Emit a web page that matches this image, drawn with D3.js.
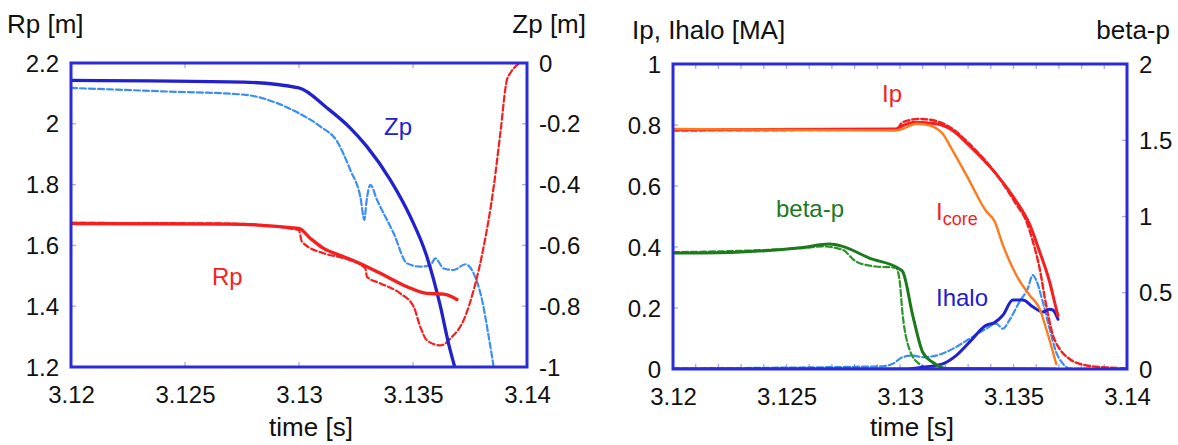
<!DOCTYPE html>
<html><head><meta charset="utf-8">
<script src="https://cdn.jsdelivr.net/npm/d3@7"></script>
<style>
html,body{margin:0;padding:0;background:#fff;}
svg text{font-family:"Liberation Sans",Arial,Helvetica,sans-serif;}
</style></head>
<body><svg id="chart" width="1178" height="445"></svg>
<script>
// ---------- Tick labels ----------
const timeTicks = [3.12, 3.125, 3.13, 3.135, 3.14];
const rpTicks = [1.2, 1.4, 1.6, 1.8, 2.0, 2.2];
const zpTicks = [-1, -0.8, -0.6, -0.4, -0.2, 0];
const ipTicks = [0, 0.2, 0.4, 0.6, 0.8, 1];
const betaTicks = [0, 0.5, 1, 1.5, 2];

// ---------- Left panel data ----------
const zpSolidT = [3.12, 3.12757, 3.12999, 3.13123, 3.13225, 3.13298, 3.13401, 3.13488, 3.13561, 3.13620, 3.13656, 3.13683];
const zpSolidV = [-0.057, -0.063, -0.082, -0.148, -0.214, -0.275, -0.385, -0.505, -0.637, -0.80, -0.923, -1.0];

const zpDashT = [3.12, 3.12392, 3.12757, 3.12904, 3.12999, 3.13094, 3.13167, 3.13225, 3.13269, 3.13287, 3.13295, 3.13313, 3.13342, 3.13415, 3.13474, 3.13532, 3.13576, 3.13598, 3.13635, 3.13678, 3.13730, 3.13766, 3.13803, 3.13832, 3.13854];
const zpDashV = [-0.082, -0.093, -0.104, -0.132, -0.165, -0.209, -0.258, -0.352, -0.44, -0.516, -0.462, -0.401, -0.45, -0.56, -0.659, -0.67, -0.665, -0.643, -0.676, -0.681, -0.662, -0.692, -0.78, -0.90, -1.0];

const rpSolidT = [3.12, 3.12684, 3.12999, 3.13050, 3.13108, 3.13196, 3.13298, 3.13386, 3.13474, 3.13561, 3.13635, 3.13693];
const rpSolidV = [1.672, 1.670, 1.656, 1.623, 1.590, 1.563, 1.530, 1.497, 1.464, 1.442, 1.440, 1.422];

const rpDashT = [3.12, 3.12684, 3.12999, 3.13013, 3.13108, 3.13196, 3.13291, 3.13298, 3.13357, 3.13444, 3.13503, 3.13532, 3.13561, 3.13620, 3.13671, 3.13722, 3.13766, 3.13810, 3.13854, 3.13883, 3.13912, 3.13927, 3.13963];
const rpDashV = [1.674, 1.672, 1.651, 1.612, 1.574, 1.558, 1.524, 1.497, 1.475, 1.442, 1.398, 1.332, 1.288, 1.271, 1.299, 1.354, 1.453, 1.596, 1.793, 1.969, 2.145, 2.167, 2.198];

// ---------- Right panel data ----------
const ipDashT = [3.12, 3.12982, 3.13012, 3.13085, 3.13159, 3.13232, 3.13306, 3.13424, 3.13512, 3.13556, 3.13585, 3.13615, 3.13644, 3.13674, 3.13703, 3.13747, 3.13820, 3.13894, 3.14];
const ipDashV = [0.782, 0.785, 0.809, 0.820, 0.813, 0.787, 0.738, 0.639, 0.540, 0.485, 0.419, 0.330, 0.209, 0.110, 0.066, 0.033, 0.012, 0.006, 0.002];

const ipSolidT = [3.12, 3.12982, 3.13012, 3.13071, 3.13159, 3.13232, 3.13306, 3.13424, 3.13512, 3.13571, 3.13615, 3.13659, 3.13688, 3.13696];
const ipSolidV = [0.785, 0.787, 0.798, 0.809, 0.804, 0.782, 0.732, 0.639, 0.550, 0.474, 0.385, 0.286, 0.198, 0.175];

const icoreT = [3.12, 3.12982, 3.13012, 3.13071, 3.13129, 3.13188, 3.13232, 3.13306, 3.13379, 3.13416, 3.13453, 3.13512, 3.13571, 3.13615, 3.13644, 3.13688];
const icoreV = [0.787, 0.782, 0.787, 0.804, 0.799, 0.771, 0.716, 0.617, 0.518, 0.485, 0.407, 0.308, 0.242, 0.198, 0.132, 0.017];

const betaSolidT = [3.12, 3.12276, 3.12571, 3.12688, 3.12747, 3.12865, 3.12997, 3.13012, 3.13056, 3.13100, 3.13144, 3.13203, 3.13688];
const betaSolidV = [0.76, 0.766, 0.797, 0.819, 0.804, 0.727, 0.656, 0.639, 0.352, 0.110, 0.044, 0.004, 0.0];

const betaDashT = [3.12, 3.12571, 3.12659, 3.12747, 3.12806, 3.12894, 3.12982, 3.12997, 3.13012, 3.13041, 3.13085, 3.13129, 3.13688];
const betaDashV = [0.766, 0.793, 0.804, 0.782, 0.705, 0.672, 0.665, 0.595, 0.352, 0.132, 0.033, 0.004, 0.0];

const ihaloSolidT = [3.12, 3.13012, 3.13100, 3.13188, 3.13247, 3.13306, 3.13379, 3.13416, 3.13453, 3.13497, 3.13541, 3.13585, 3.13629, 3.13659, 3.13674, 3.13696];
const ihaloSolidV = [0.0, 0.0, 0.006, 0.017, 0.044, 0.088, 0.143, 0.152, 0.176, 0.226, 0.226, 0.204, 0.187, 0.196, 0.193, 0.163];

const ihaloDashT = [3.12, 3.12924, 3.12968, 3.13012, 3.13056, 3.13100, 3.13159, 3.13232, 3.13306, 3.13379, 3.13424, 3.13453, 3.13482, 3.13526, 3.13563, 3.13585, 3.13600, 3.13629, 3.13659, 3.13688, 3.13718, 3.13747, 3.14];
const ihaloDashV = [0.002, 0.009, 0.017, 0.039, 0.044, 0.039, 0.044, 0.066, 0.099, 0.132, 0.149, 0.132, 0.160, 0.220, 0.264, 0.308, 0.291, 0.220, 0.132, 0.055, 0.017, 0.002, 0.0];

// ---------- Drawing ----------
const svg = d3.select("#chart");
const FRAME = "#2b2bdc", TICKC = "#a8a8ee";
const FS = 24, FT = 26;
const zip = (t, v) => t.map((d, i) => [d, v[i]]);
const fmt = d => String(+d.toFixed(3));

function panel(opt) {
  const {x0, x1, y0, y1, id} = opt;
  const x = d3.scaleLinear().domain([3.12, 3.14]).range([x0, x1]);
  const yL = d3.scaleLinear().domain(opt.lDom).range([y1, y0]);
  const yR = d3.scaleLinear().domain(opt.rDom).range([y1, y0]);
  const g = svg.append("g");
  g.append("clipPath").attr("id", id).append("rect")
    .attr("x", x0).attr("y", y0).attr("width", x1 - x0).attr("height", y1 - y0);

  // inner ticks
  const tk = g.append("g").attr("stroke", TICKC).attr("stroke-width", 1.3);
  opt.xMinor.forEach(t => {
    tk.append("line").attr("x1", x(t)).attr("x2", x(t)).attr("y1", y1).attr("y2", y1 - 5);
    tk.append("line").attr("x1", x(t)).attr("x2", x(t)).attr("y1", y0).attr("y2", y0 + 5);
  });
  opt.lTicks.forEach(v => tk.append("line").attr("x1", x0).attr("x2", x0 + 5).attr("y1", yL(v)).attr("y2", yL(v)));
  opt.rTicks.forEach(v => tk.append("line").attr("x1", x1).attr("x2", x1 - 5).attr("y1", yR(v)).attr("y2", yR(v)));

  // series
  const lines = g.append("g").attr("clip-path", `url(#${id})`).attr("fill", "none")
    .attr("stroke-linejoin", "round").attr("stroke-linecap", "round");
  opt.series.forEach(s => {
    const ys = s.axis === "r" ? yR : yL;
    const line = d3.line().x(d => x(d[0])).y(d => ys(d[1])).curve(d3.curveMonotoneX);
    lines.append("path").datum(zip(s.t, s.v)).attr("d", line)
      .attr("stroke", s.color).attr("stroke-width", s.w)
      .attr("stroke-dasharray", s.dash || null);
  });

  // frame
  g.append("rect").attr("x", x0).attr("y", y0).attr("width", x1 - x0).attr("height", y1 - y0)
    .attr("fill", "none").attr("stroke", FRAME).attr("stroke-width", 3);

  // axes labels (d3 axes with domain/tick lines hidden)
  const ax = d3.axisBottom(x).tickValues(timeTicks).tickSize(0).tickPadding(19).tickFormat(fmt);
  const gx = g.append("g").attr("transform", `translate(0,${y1})`).call(ax);
  const al = d3.axisLeft(yL).tickValues(opt.lTicks).tickSize(0).tickPadding(12).tickFormat(fmt);
  const gl = g.append("g").attr("transform", `translate(${x0},0)`).call(al);
  const ar = d3.axisRight(yR).tickValues(opt.rTicks).tickSize(0).tickPadding(12).tickFormat(fmt);
  const gr = g.append("g").attr("transform", `translate(${x1},0)`).call(ar);
  [gx, gl, gr].forEach(a => {
    a.select(".domain").remove();
    a.selectAll("text").attr("font-size", FS).attr("fill", "#111")
      .attr("font-family", "Liberation Sans, Arial, sans-serif");
  });
  gl.selectAll("text").attr("dy", "0.34em");
  gr.selectAll("text").attr("dy", "0.34em");

  // titles
  g.append("text").attr("x", opt.lTitleX).attr("y", opt.titleY).attr("font-size", FT).attr("fill", "#111").text(opt.lTitle);
  g.append("text").attr("x", opt.rTitleX).attr("y", opt.titleY).attr("font-size", FT).attr("fill", "#111")
    .attr("text-anchor", "end").text(opt.rTitle);
  g.append("text").attr("x", (x0 + x1) / 2 + 12).attr("y", 436).attr("font-size", FT).attr("fill", "#111")
    .attr("text-anchor", "middle").text("time [s]");

  opt.labels.forEach(l => {
    const t = g.append("text").attr("x", l.x).attr("y", l.y).attr("font-size", FS).attr("fill", l.color);
    t.append("tspan").text(l.text);
    if (l.sub) t.append("tspan").attr("font-size", 18).attr("dy", 5).text(l.sub);
  });
  return {x, yL, yR};
}

const BLUE = "#2222cc", LBLUE = "#3a8ef5", RED = "#f51f1f", ORANGE = "#ff7a1e", GREEN = "#1c7a1c", LGREEN = "#2c962c";
const minorTimes = d3.range(0, 21).map(i => 3.12 + i * 0.001);

panel({
  id: "clipL", x0: 71, x1: 527, y0: 63, y1: 367,
  lDom: [1.2, 2.2], rDom: [-1, 0],
  lTicks: rpTicks, rTicks: zpTicks,
  xMinor: [3.125, 3.13, 3.135],
  lTitle: "Rp [m]", lTitleX: 7, rTitle: "Zp [m]", rTitleX: 586, titleY: 33,
  series: [
    {t: zpDashT, v: zpDashV, axis: "r", color: LBLUE, w: 2.2, dash: "6,3"},
    {t: rpDashT, v: rpDashV, axis: "l", color: RED, w: 2.2, dash: "6,3"},
    {t: zpSolidT, v: zpSolidV, axis: "r", color: BLUE, w: 3.3},
    {t: rpSolidT, v: rpSolidV, axis: "l", color: RED, w: 3.3}
  ],
  labels: [
    {text: "Zp", x: 384, y: 135, color: BLUE},
    {text: "Rp", x: 212, y: 285, color: RED}
  ]
});

panel({
  id: "clipR", x0: 673, x1: 1127, y0: 64, y1: 369,
  lDom: [0, 1], rDom: [0, 2],
  lTicks: ipTicks, rTicks: betaTicks,
  xMinor: minorTimes,
  lTitle: "Ip, Ihalo [MA]", lTitleX: 632, rTitle: "beta-p", rTitleX: 1170, titleY: 39,
  series: [
    {t: ihaloDashT, v: ihaloDashV, axis: "l", color: LBLUE, w: 2.2, dash: "6,3"},
    {t: betaDashT, v: betaDashV, axis: "r", color: LGREEN, w: 2.2, dash: "6,3"},
    {t: ipDashT, v: ipDashV, axis: "l", color: RED, w: 2.4, dash: "6,3"},
    {t: ihaloSolidT, v: ihaloSolidV, axis: "l", color: BLUE, w: 3},
    {t: betaSolidT, v: betaSolidV, axis: "r", color: GREEN, w: 3},
    {t: ipSolidT, v: ipSolidV, axis: "l", color: RED, w: 3},
    {t: icoreT, v: icoreV, axis: "l", color: ORANGE, w: 2.4}
  ],
  labels: [
    {text: "Ip", x: 882, y: 102, color: RED},
    {text: "I", x: 936, y: 220, color: RED, sub: "core"},
    {text: "beta-p", x: 776, y: 217, color: GREEN},
    {text: "Ihalo", x: 936, y: 306, color: "#2020d0"}
  ]
});
</script>
</body></html>
